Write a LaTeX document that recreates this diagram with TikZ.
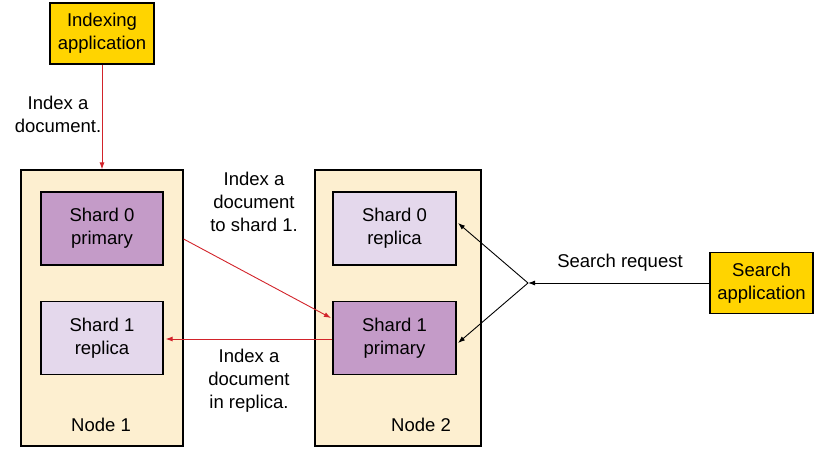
\documentclass[tikz,border=0pt]{standalone}
\usepackage{fontspec}
\setmainfont{Liberation Sans}
\usetikzlibrary{arrows.meta}
\definecolor{appyel}{RGB}{255,212,0}
\definecolor{nodecream}{RGB}{253,239,208}
\definecolor{primpurp}{RGB}{196,155,200}
\definecolor{replpurp}{RGB}{228,216,236}
\definecolor{arrred}{RGB}{210,35,42}
\begin{document}
\begin{tikzpicture}[x=1pt,y=-1pt,
  txt/.style={font=\fontsize{18.5}{23}\selectfont,align=center,inner sep=0pt},
  appbox/.style={draw=black,line width=1.2pt,fill=appyel,minimum width=104pt,minimum height=61pt,txt},
  hostbox/.style={draw=black,line width=1.2pt,fill=nodecream,minimum width=162pt,minimum height=276pt},
  primbox/.style={draw=black,line width=1.2pt,fill=primpurp,minimum width=122pt,minimum height=73pt,txt},
  replbox/.style={draw=black,line width=1.2pt,fill=replpurp,minimum width=122pt,minimum height=73pt,txt},
  redarr/.style={draw=arrred,line width=0.9pt,-{Latex[length=7pt,width=5pt]}},
  blkarr/.style={draw=black,line width=0.9pt,-{Latex[length=7pt,width=5pt]}}
]
\useasboundingbox (0,0) rectangle (820,452);
\node[hostbox] (n1) at (102,308) {};
\node[hostbox, minimum width=166pt] (n2) at (398,308) {};
\node[appbox] (ia) at (102,33.5) {Indexing\\application};
\node[appbox, minimum width=103pt] (sa) at (761.5,283) {Search\\application};
\node[primbox] (s0p) at (102,228.5) {Shard 0\\primary};
\node[replbox] (s1r) at (102,338) {Shard 1\\replica};
\node[replbox, minimum width=123pt] (s0r) at (394.5,228.5) {Shard 0\\replica};
\node[primbox, minimum width=123pt] (s1p) at (394.5,338) {Shard 1\\primary};
\node[txt] (l1) at (58,114) {Index a\\document.};
\node[txt] (l2) at (254,202) {Index a\\document\\to shard 1.};
\node[txt] (l3) at (249,381) {Index a\\document\\in replica.};
\node[txt] (l4) at (620,263) {Search request};
\node[txt] (h1) at (101,425) {Node 1};
\node[txt] (h2) at (421,425) {Node 2};
\coordinate (j) at (528,283);
\draw[redarr] (ia.south) -- (n1.north);
\draw[redarr] (n1.east |- 0,239) -- (331,318);
\draw[redarr] (s1p.west |- 0,339) -- ([xshift=2pt]s1r.east |- 0,339);
\draw[blkarr] (sa.west) -- (j);
\draw[blkarr] (j) -- (458,223);
\draw[blkarr] (j) -- (458,343);
\end{tikzpicture}
\end{document}
